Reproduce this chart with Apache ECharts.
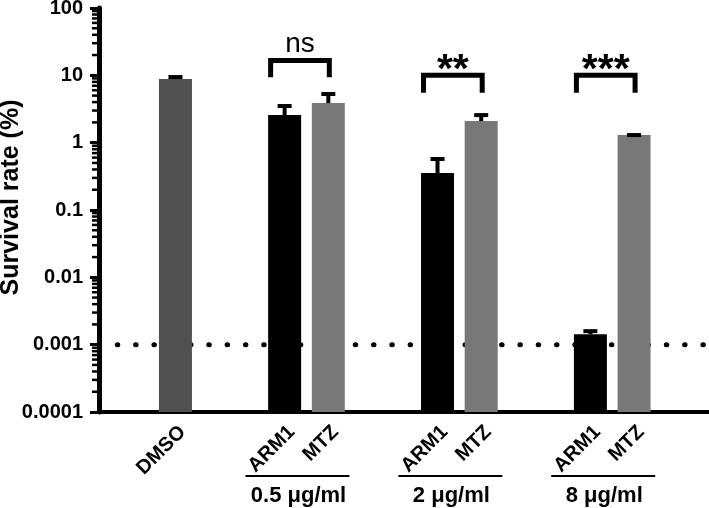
<!DOCTYPE html>
<html><head><meta charset="utf-8">
<script src="https://cdn.jsdelivr.net/npm/echarts@6/dist/echarts.min.js"></script>
<style>html,body{margin:0;padding:0;background:#fff}#c{width:709px;height:508px}</style>
</head><body><div id="c"></div>
<script>
// ---------------- data ----------------
const barLabels = ['DMSO', 'ARM1', 'MTZ', 'ARM1', 'MTZ', 'ARM1', 'MTZ'];
const survival = [8.8, 2.57, 3.87, 0.353, 2.09, 0.00143, 1.30];
const errorPlus = [1.3, 1.18, 1.78, 0.26, 0.66, 0.00027, 0.09];
const doseLabels = ['0.5 μg/ml', '2 μg/ml', '8 μg/ml'];
const sigLabels = ['ns', '**', '***'];
const bracketTop = [16.6, 10, 10];
const bracketFoot = [9.4, 5.5, 5.5];
const yTickLabels = ['0.0001', '0.001', '0.01', '0.1', '1', '10', '100'];
const yMinorMultipliers = [2, 3, 4, 5, 6, 7, 8, 9];
const yDecades = [0.0001, 0.001, 0.01, 0.1, 1, 10];
const detectionLimit = 0.001;
const yTitle = 'Survival rate (%)';

// ---------------- layout / style ----------------
const SLOTS = 28;
const SLOT_W = 21.84;
const barSlot = [3, 8, 10, 15, 17, 22, 24];
const tickSlot = [3, 9, 16, 23];
const barColors = ['#505050', '#000000', '#787878', '#000000', '#787878', '#000000', '#787878'];
const FONT = '"Liberation Sans", Arial, sans-serif';
const GRID_LEFT = 99;

const slotLabel = Array(SLOTS).fill('');
barSlot.forEach((s, i) => { slotLabel[s] = barLabels[i]; });
const axisCats = Array.from({length: SLOTS}, (_, i) => String(i));

const barData = Array(SLOTS).fill('-');
barSlot.forEach((s, i) => {
  barData[s] = { value: survival[i], itemStyle: { color: barColors[i] } };
});

const errData = barSlot.map((s, i) => [s, survival[i], survival[i] + errorPlus[i]]);
const brData = sigLabels.map((l, i) => [barSlot[2 * i + 1], barSlot[2 * i + 2], bracketTop[i], bracketFoot[i], i]);
const doseData = doseLabels.map((l, i) => [tickSlot[i + 1], 0.0001, i]);
const minorValues = [];
yDecades.forEach(d => yMinorMultipliers.forEach(m => minorValues.push(m * d)));

const chart = echarts.init(document.getElementById('c'), null, { renderer: 'canvas' });
chart.setOption({
  animation: false,
  backgroundColor: '#fff',
  grid: { left: GRID_LEFT, top: 8, width: SLOTS * SLOT_W, height: 404, containLabel: false, outerBoundsMode: 'none' },
  xAxis: {
    type: 'category',
    data: axisCats,
    boundaryGap: true,
    axisLine: { lineStyle: { color: '#000', width: 4 } },
    axisTick: {
      alignWithLabel: true, length: 10,
      interval: (idx) => tickSlot.includes(idx),
      lineStyle: { color: '#000', width: 3 }
    },
    axisLabel: {
      interval: 0, rotate: 45, margin: 10,
      verticalAlign: 'top',
      formatter: (v) => slotLabel[Number(v)],
      color: '#000', fontFamily: FONT, fontWeight: 'bold', fontSize: 20
    },
    splitLine: { show: false }
  },
  yAxis: {
    type: 'log', logBase: 10, min: 0.0001, max: 100, startValue: 0.0001,
    name: yTitle, nameLocation: 'middle', nameGap: 75, nameMoveOverlap: false,
    nameTextStyle: { color: '#000', fontFamily: FONT, fontWeight: 'bold', fontSize: 25, padding: [0, 0, 0, 25] },
    axisLine: { show: true, lineStyle: { color: '#000', width: 5 } },
    axisTick: { show: true, length: 9, lineStyle: { color: '#000', width: 3 } },
    axisLabel: {
      margin: 16, color: '#000', fontFamily: FONT, fontWeight: 'bold', fontSize: 20,
      formatter: (v, i) => yTickLabels[i]
    },
    splitLine: { show: false }
  },
  series: [
    {
      type: 'bar', data: barData, barWidth: 33, z: 2
    },
    {
      // detection limit dotted line (behind bars)
      type: 'custom', z: 1, clip: false,
      encode: { x: 0, y: 1 },
      data: [[0, detectionLimit]],
      renderItem: (params, api) => {
        const p = api.coord([0, api.value(1)]);
        const cs = params.coordSys;
        return { type: 'line', shape: { x1: cs.x, y1: p[1], x2: cs.x + cs.width, y2: p[1] },
                 style: { stroke: '#000', lineWidth: 5, lineDash: [0.5, 17.8], lineDashOffset: 0, lineCap: 'round' } };
      }
    },
    {
      // log-scale minor ticks on the y axis (axis decoration)
      type: 'custom', z: 20, clip: false,
      encode: { x: 0, y: 1 },
      data: [[0, 1]],
      renderItem: (params, api) => {
        const ax = params.coordSys.x;
        const children = minorValues.map(v => {
          const y = api.coord([0, v])[1];
          return { type: 'line', shape: { x1: ax - 7, y1: y, x2: ax - 1, y2: y },
                   style: { stroke: '#000', lineWidth: 2.5 } };
        });
        return { type: 'group', children: children };
      }
    },
    {
      type: 'custom', z: 3, clip: false,
      encode: { x: 0, y: [1, 2] },
      data: errData,
      renderItem: (params, api) => {
        const x = api.value(0);
        const p0 = api.coord([x, api.value(1)]);
        const p1 = api.coord([x, api.value(2)]);
        const st = { stroke: '#000', lineWidth: 4 };
        return {
          type: 'group', children: [
            { type: 'line', shape: { x1: p0[0], y1: p0[1], x2: p1[0], y2: p1[1] + 2 }, style: st },
            { type: 'line', shape: { x1: p1[0] - 7, y1: p1[1] + 2, x2: p1[0] + 7, y2: p1[1] + 2 }, style: st }
          ]
        };
      }
    },
    {
      type: 'custom', z: 4, clip: false,
      encode: { x: [0, 1], y: [2, 3] },
      data: brData,
      renderItem: (params, api) => {
        const i = api.value(4);
        const pl = api.coord([api.value(0), api.value(2)]);
        const pr = api.coord([api.value(1), api.value(2)]);
        const pf = api.coord([api.value(0), api.value(3)]);
        const xl = pl[0] - 14, xr = pr[0] + 1, yt = pl[1], yb = pf[1];
        const isNs = sigLabels[i] === 'ns';
        return {
          type: 'group', children: [
            { type: 'polyline', shape: { points: [[xl, yb], [xl, yt], [xr, yt], [xr, yb]] },
              style: { stroke: '#000', lineWidth: 5, fill: null, lineJoin: 'miter', lineCap: 'butt' } },
            { type: 'text', x: (xl + xr) / 2, y: isNs ? yt - 16 : yt - 5,
              style: { text: sigLabels[i], align: 'center', verticalAlign: 'middle', fill: '#000',
                       font: (isNs ? 'normal 28px ' : 'bold 41px ') + FONT } }
          ]
        };
      }
    },
    {
      type: 'custom', z: 4, clip: false,
      encode: { x: 0, y: 1 },
      data: doseData,
      renderItem: (params, api) => {
        const i = api.value(2);
        const p = api.coord([api.value(0), api.value(1)]);
        return {
          type: 'group', children: [
            { type: 'line', shape: { x1: p[0] - 61, y1: p[1] + 64, x2: p[0] + 43, y2: p[1] + 64 },
              style: { stroke: '#000', lineWidth: 2 } },
            { type: 'text', x: p[0] - 8, y: p[1] + 84,
              style: { text: doseLabels[i], align: 'center', verticalAlign: 'middle', fill: '#000',
                       font: 'bold 22px ' + FONT } }
          ]
        };
      }
    }
  ]
});
</script></body></html>
